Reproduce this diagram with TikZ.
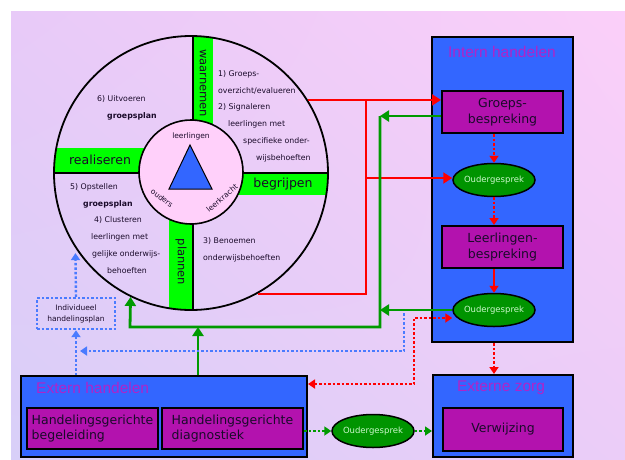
\documentclass[tikz,border=0pt]{standalone}
\usepackage{fontspec}
\setmainfont{DejaVu Sans}
\newfontfamily\titlefont{Liberation Sans}
\usetikzlibrary{arrows.meta, positioning, calc, shapes.geometric, shadings}

\definecolor{bgul}{HTML}{E8CAF8}
\definecolor{bgur}{HTML}{FBCFF9}
\definecolor{bgll}{HTML}{D8CFF8}
\definecolor{bglr}{HTML}{EBCDF8}
\definecolor{bargreen}{HTML}{00FF00}
\definecolor{hubpink}{HTML}{FFD0FA}
\definecolor{zoneblue}{HTML}{3366FF}
\definecolor{taskpurple}{HTML}{B312AE}
\definecolor{titlecol}{HTML}{B024C8}
\definecolor{talkgreen}{HTML}{009400}
\definecolor{talktext}{HTML}{CCF8CC}
\definecolor{linegreen}{HTML}{009A00}
\definecolor{dotblue}{HTML}{4A7BFF}
\definecolor{inktext}{HTML}{1A0A2A}

\begin{document}
\begin{tikzpicture}[x=1pt, y=-1pt]
	\tikzstyle{zone} = [draw, line width=2pt, fill=zoneblue, rectangle]
	\tikzstyle{zonetitle} = [text=titlecol, inner sep=0pt, font=\titlefont\fontsize{15.5}{18}\selectfont]
	\tikzstyle{task} = [draw, line width=2pt, fill=taskpurple, rectangle, align=center, text=inktext, font=\fontsize{12.5}{15.5}\selectfont]
	\tikzstyle{talk} = [draw, line width=1.5pt, ellipse, fill=talkgreen, minimum width=82pt, minimum height=33pt,
		inner xsep=-2pt, inner ysep=0pt, text=talktext, font=\fontsize{8.5}{10}\selectfont]
	\tikzstyle{barlabel} = [inner sep=0pt, text=inktext, font=\fontsize{12.5}{15}\selectfont]
	\tikzstyle{steps} = [align=left, anchor=north west, inner sep=0pt, text=inktext, font=\fontsize{7.8}{16.9}\selectfont]
	\tikzstyle{hublabel} = [inner sep=0pt, text=inktext, font=\fontsize{7.5}{9}\selectfont]
	\tikzstyle{redln} = [draw=red, line width=2pt]
	\tikzstyle{reddot} = [redln, dash pattern=on 2.5pt off 2pt]
	\tikzstyle{grnln} = [draw=linegreen, line width=2.8pt]
	\tikzstyle{grndot} = [draw=linegreen, line width=2.4pt, dash pattern=on 2.5pt off 2pt]
	\tikzstyle{bluedot} = [draw=dotblue, line width=2.4pt, dash pattern=on 2.5pt off 2pt]
	\tikzstyle{headed} = [-{Triangle[width=11pt,length=9pt]}]
	\tikzstyle{smallhead} = [-{Triangle[width=9pt,length=7pt]}]
	
	\useasboundingbox (0,0) rectangle (625,459);
	\shade[upper left=bgul, upper right=bgur, lower left=bgll, lower right=bglr] (11,11) rectangle (625,459);
	
	% the wheel
	\begin{scope}
		\clip (191,173) circle (137pt);
		\fill[bargreen] (193,30) rectangle (213,173);
		\fill[bargreen] (169,173) rectangle (193,320);
		\fill[bargreen] (40,148) rectangle (191,173);
		\fill[bargreen] (191,173) rectangle (340,195);
		\draw[line width=1.6pt] (193,30) -- (193,320);
		\draw[line width=1.6pt] (40,173) -- (340,173);
	\end{scope}
	\node[draw, circle, line width=1.8pt, minimum size=274pt, inner sep=0pt] (wheel) at (191,173) {};
	\node[draw, circle, line width=1.6pt, fill=hubpink, minimum size=104pt, inner sep=0pt] (hub) at (191,172) {};
	\draw[line width=1pt, fill=zoneblue] (190,145) -- (169,189) -- (212,189) -- cycle;
	\node[hublabel] (pupils) at (191,136) {leerlingen};
	\node[hublabel, rotate=-38] (parents) at (162,198) {ouders};
	\node[hublabel, rotate=40] (teacher) at (222,198) {leerkracht};
	
	\node[barlabel, rotate=-90, font=\fontsize{11.5}{14}\selectfont] (observe) at (203,83) {waarnemen};
	\node[barlabel, rotate=-90, font=\fontsize{11.5}{14}\selectfont] (plan) at (181,262) {plannen};
	\node[barlabel] (realise) at (100,160) {realiseren};
	\node[barlabel] (grasp) at (283,184) {begrijpen};
	
	\node[steps] (stepsa) at (218,70) {1) Groeps-\\overzicht/evalueren\\2) Signaleren\\\hspace*{10pt}leerlingen met\\\hspace*{25pt}specifieke onder-\\\hspace*{38pt}wijsbehoeften};
	\node[steps] (stepsb) at (203,237) {3) Benoemen\\onderwijsbehoeften};
	\node[steps] (stepsc) at (70,183) {5) Opstellen\\\hspace*{13pt}\textbf{groepsplan}\\\hspace*{24pt}4) Clusteren\\\hspace*{21pt}leerlingen met\\\hspace*{22pt}gelijke onderwijs-\\\hspace*{37pt}behoeften};
	\node[steps] (stepsd) at (97,95) {6) Uitvoeren\\\hspace*{10pt}\textbf{groepsplan}};
	
	% intern handelen
	\node[zone, minimum width=141pt, minimum height=305pt] (intern) at (502.5,189.5) {};
	\node[zonetitle] (interntitle) at (502,52) {Intern handelen};
	\node[task, minimum width=121pt, minimum height=42pt] (groeps) at (502.5,112) {Groeps-\\bespreking};
	\node[talk] (oud1) at (494,180) {Oudergesprek};
	\node[task, minimum width=121pt, minimum height=42pt] (leer) at (502.5,247) {Leerlingen-\\bespreking};
	\node[talk] (oud2) at (494,310) {Oudergesprek};
	
	% externe zorg
	\node[zone, minimum width=140pt, minimum height=82pt] (ezorg) at (503,416) {};
	\node[zonetitle] (ezorgtitle) at (501,388) {Externe zorg};
	\node[task, minimum width=120pt, minimum height=43pt] (verw) at (503,429.5) {Verwijzing};
	
	% extern handelen
	\node[zone, minimum width=286pt, minimum height=81pt] (extern) at (164,416.5) {};
	\node[zonetitle, anchor=west] (externtitle) at (36,388) {Extern handelen};
	\node[task, minimum width=131pt, minimum height=41pt, align=left] (begel) at (92.5,428.5) {Handelingsgerichte\\begeleiding};
	\node[task, minimum width=141pt, minimum height=41pt, align=left] (diag) at (232.5,428.5) {Handelingsgerichte\\diagnostiek};
	\node[talk] (oud3) at (373,431) {Oudergesprek};
	
	\node[bluedot, rectangle, minimum width=78pt, minimum height=31pt, inner sep=0pt, align=center, text=inktext,
		font=\fontsize{7.5}{11}\selectfont] (ihp) at (76,313.5) {Individueel\\handelingsplan};
	
	% red from the wheel
	\coordinate (rtop) at (366,100);
	\coordinate (rmid) at (366,178);
	\draw[redln, headed] (wheel.32) -- (wheel.32 -| groeps.west);
	\draw[redln] (wheel.-61) -| (rtop);
	\draw[redln, headed] (rmid) -- (rmid -| oud1.west);
	
	% green back to the wheel
	\coordinate (gtop) at (380,116);
	\coordinate (gcorner) at (130,327);
	\coordinate (gjoin) at (198,327);
	\draw[grnln, headed] (groeps.west |- gtop) -- (gtop);
	\draw[grnln, headed] (oud2.west) -- (oud2.west -| gtop);
	\draw[grnln, headed] (gtop) |- (gcorner) -- (wheel.-116);
	\draw[grnln, headed] (gjoin |- extern.north) -- (gjoin);
	
	% blue dotted
	\coordinate (bstart) at (404,313);
	\coordinate (bturn) at (80,351);
	\draw[bluedot, smallhead] (bstart) |- (bturn);
	\draw[bluedot, smallhead] (ihp.south |- extern.north) -- (ihp.south);
	\draw[bluedot, smallhead, shorten >=5pt] (ihp.north) -- (wheel.-147);
	
	% red dotted
	\coordinate (rdj) at (414,318);
	\draw[reddot, {Triangle[width=9pt,length=7pt]}-{Triangle[width=9pt,length=7pt]}] ([yshift=-9pt]extern.north east) -| (rdj) -- (rdj -| oud2.west);
	\draw[reddot, smallhead] (groeps.south -| oud1) -- (oud1.north);
	\draw[reddot, smallhead] (oud1.south) -- (oud1 |- leer.north);
	\draw[redln, smallhead] (leer.south -| oud2) -- (oud2.north);
	\draw[reddot, smallhead] (intern.south -| oud2) -- (oud2 |- ezorg.north);
	
	% green dotted
	\draw[grndot, smallhead] (oud3.west -| diag.east) -- (oud3.west);
	\draw[grndot, smallhead] (oud3.east) -- (oud3.east -| ezorg.west);
\end{tikzpicture}
\end{document}
